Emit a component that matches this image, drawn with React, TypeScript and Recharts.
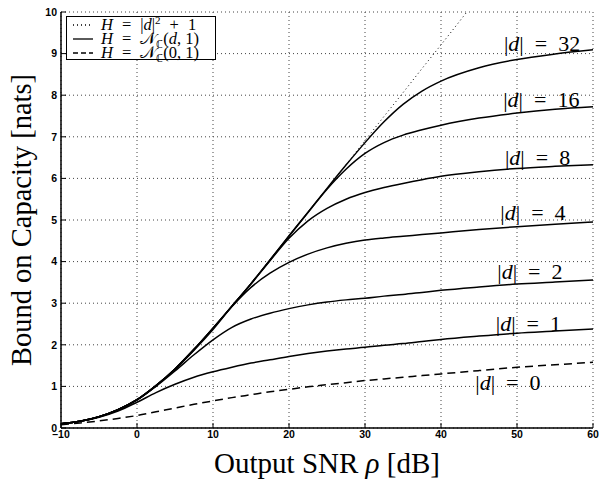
import { LineChart, Line, XAxis, YAxis, CartesianGrid, Legend, ReferenceDot } from 'recharts';

// output SNR in dB, shared by the |d| curves
const snr = [-10, -7.5, -5, -2.5, 0, 2.5, 5, 7.5, 10, 12.5, 15, 17.5, 20, 22.5, 25, 27.5, 30, 32.5, 35, 37.5, 40, 45, 50, 55, 60];

// bound on capacity [nats] for H = N_C(d, 1)
const capD32 = [0.10, 0.16, 0.27, 0.44, 0.68, 1.02, 1.42, 1.89, 2.40, 2.93, 3.47, 4.04, 4.62, 5.19, 5.76, 6.32, 6.86, 7.36, 7.78, 8.10, 8.34, 8.66, 8.86, 8.99, 9.09];
const capD16 = [0.10, 0.16, 0.27, 0.44, 0.68, 1.02, 1.42, 1.89, 2.40, 2.93, 3.47, 4.04, 4.61, 5.18, 5.74, 6.22, 6.60, 6.86, 7.04, 7.17, 7.28, 7.45, 7.57, 7.66, 7.72];
const capD8 = [0.10, 0.16, 0.27, 0.44, 0.68, 1.02, 1.42, 1.89, 2.40, 2.93, 3.46, 4.02, 4.56, 4.98, 5.28, 5.50, 5.66, 5.78, 5.88, 5.97, 6.05, 6.16, 6.24, 6.29, 6.33];
const capD4 = [0.10, 0.16, 0.27, 0.44, 0.68, 1.02, 1.41, 1.87, 2.37, 2.92, 3.38, 3.72, 3.98, 4.18, 4.33, 4.44, 4.52, 4.57, 4.61, 4.65, 4.69, 4.77, 4.84, 4.90, 4.95];
const capD2 = [0.10, 0.16, 0.27, 0.44, 0.67, 1.00, 1.37, 1.76, 2.12, 2.42, 2.62, 2.76, 2.87, 2.96, 3.03, 3.08, 3.12, 3.17, 3.21, 3.26, 3.31, 3.39, 3.46, 3.51, 3.56];
const capD1 = [0.10, 0.16, 0.26, 0.41, 0.62, 0.85, 1.05, 1.22, 1.35, 1.46, 1.56, 1.64, 1.72, 1.79, 1.85, 1.90, 1.94, 1.99, 2.03, 2.08, 2.13, 2.21, 2.28, 2.33, 2.38];
// H = N_C(0, 1)
const capD0 = [0.08, 0.12, 0.17, 0.23, 0.30, 0.39, 0.48, 0.57, 0.65, 0.73, 0.80, 0.87, 0.93, 0.99, 1.04, 1.09, 1.14, 1.18, 1.22, 1.26, 1.30, 1.38, 1.46, 1.52, 1.58];

// H = |d|^2 + 1 (dotted), runs off the top near 43 dB
const boundSnr = [-10, -7.5, -5, -2.5, 0, 2.5, 5, 7.5, 10, 12.5, 15, 17.5, 20, 22.5, 25, 27.5, 30, 32.5, 35, 37.5, 40, 42.5, 43.4];
const boundCap = [0.10, 0.16, 0.27, 0.44, 0.69, 1.02, 1.42, 1.89, 2.40, 2.93, 3.47, 4.04, 4.62, 5.19, 5.76, 6.33, 6.91, 7.49, 8.06, 8.64, 9.21, 9.79, 10.0];

const xTicks = [-10, 0, 10, 20, 30, 40, 50, 60];
const yTicks = [0, 1, 2, 3, 4, 5, 6, 7, 8, 9, 10];

// in-plot curve labels, "|d| = n"
const curveLabels = ['32', '16', '8', '4', '2', '1', '0'];
const labelSnr = [53.3, 53.2, 52.7, 52.1, 51.7, 51.5, 48.8];
const labelCap = [9.07, 7.72, 6.33, 4.99, 3.59, 2.32, 0.91];

const data = snr.map((x, i) => ({
    snr: x,
    d32: capD32[i],
    d16: capD16[i],
    d8: capD8[i],
    d4: capD4[i],
    d2: capD2[i],
    d1: capD1[i],
    d0: capD0[i],
}));
const boundData = boundSnr.map((x, i) => ({ snr: x, bound: boundCap[i] }));

const tickFont = '"Liberation Sans", Arial, sans-serif';
const serif = '"Liberation Serif", "Times New Roman", serif';

function XTick(props: any) {
    const { x, y, payload } = props;
    const v = payload.value < 0 ? `\u2013${Math.abs(payload.value)}` : `${payload.value}`;
    return (
        <g>
            <line x1={x} y1={y} x2={x} y2={y - 5} stroke="#000" strokeWidth={1} />
            <text x={x} y={y + 9.5} textAnchor="middle" fontFamily={tickFont} fontWeight="bold" fontSize={10.5} fill="#000">{v}</text>
        </g>
    );
}

function YTick(props: any) {
    const { x, y, payload } = props;
    return (
        <g>
            <line x1={x} y1={y} x2={x + 5} y2={y} stroke="#000" strokeWidth={1} />
            <text x={x - 4} y={y + 3.8} textAnchor="end" fontFamily={tickFont} fontWeight="bold" fontSize={10.5} fill="#000">{payload.value}</text>
        </g>
    );
}

function LegendBox() {
    const swatch = (dash?: string) => (
        <svg width={26} height={14} style={{ display: 'block' }}>
            <line x1={5} y1={7} x2={25} y2={7} stroke="#000" strokeWidth={1.3} strokeDasharray={dash} />
        </svg>
    );
    const row = { display: 'flex', alignItems: 'center', height: 14 } as const;
    const eq = { margin: '0 9px' };
    const small = { fontSize: 11, lineHeight: 0 };
    return (
        <div style={{ border: '1px solid #000', background: '#fff', width: 150, height: 44, boxSizing: 'border-box', padding: '1px 0 0 1px', fontFamily: serif, fontSize: 16.5, lineHeight: '14px', color: '#000' }}>
            <div style={row}>{swatch('1 3')}<span style={{ marginLeft: 7 }}><i>H</i><span style={eq}>=</span>|<i>d</i>|<sup style={small}>2</sup><span style={eq}>+</span>1</span></div>
            <div style={row}>{swatch()}<span style={{ marginLeft: 7 }}><i>H</i><span style={eq}>=</span>𝒩<sub style={small}>ℂ</sub>(<i>d</i>,&nbsp;1)</span></div>
            <div style={row}>{swatch('5 3')}<span style={{ marginLeft: 7 }}><i>H</i><span style={eq}>=</span>𝒩<sub style={small}>ℂ</sub>(0,&nbsp;1)</span></div>
        </div>
    );
}

export default function App() {
    return (
        <div style={{ position: 'absolute', left: 0, top: 0, background: '#fff' }}>
            <LineChart width={603} height={480} data={data} margin={{ top: 12, right: 10, left: 0, bottom: 0 }}>
                <CartesianGrid stroke="#444" strokeDasharray="1 3" horizontalValues={yTicks} verticalValues={xTicks} />
                <XAxis
                    type="number"
                    dataKey="snr"
                    domain={[-10, 60]}
                    ticks={xTicks}
                    interval={0}
                    height={52}
                    tickSize={0}
                    tickMargin={0}
                    tick={<XTick />}
                    axisLine={{ stroke: '#000', strokeWidth: 1.5 }}
                    label={(p: any) => {
                        const vb = p.viewBox;
                        return (
                            <text x={vb.x + vb.width / 2} y={473} textAnchor="middle" fontFamily={serif} fontSize={29} fill="#000">
                                Output SNR <tspan fontStyle="italic">ρ</tspan> [dB]
                            </text>
                        );
                    }}
                />
                <YAxis
                    type="number"
                    domain={[0, 10]}
                    ticks={yTicks}
                    interval={0}
                    width={61}
                    tickSize={0}
                    tickMargin={0}
                    tick={<YTick />}
                    axisLine={{ stroke: '#000', strokeWidth: 1.5 }}
                    allowDataOverflow
                    label={() => (
                        <text x={31} y={220} transform="rotate(-90 31 220)" textAnchor="middle" fontFamily={serif} fontSize={28.5} fill="#000">
                            Bound on Capacity [nats]
                        </text>
                    )}
                />
                <Legend
                    layout="vertical"
                    align="center"
                    verticalAlign="middle"
                    content={() => <LegendBox />}
                    wrapperStyle={{ top: 16, left: 66, width: 'auto', height: 'auto' }}
                />
                <Line data={boundData} dataKey="bound" type="monotone" stroke="#000" strokeWidth={1} strokeDasharray="1 3" dot={false} isAnimationActive={false} />
                <Line dataKey="d32" type="monotone" stroke="#000" strokeWidth={1.5} dot={false} isAnimationActive={false} />
                <Line dataKey="d16" type="monotone" stroke="#000" strokeWidth={1.5} dot={false} isAnimationActive={false} />
                <Line dataKey="d8" type="monotone" stroke="#000" strokeWidth={1.5} dot={false} isAnimationActive={false} />
                <Line dataKey="d4" type="monotone" stroke="#000" strokeWidth={1.5} dot={false} isAnimationActive={false} />
                <Line dataKey="d2" type="monotone" stroke="#000" strokeWidth={1.5} dot={false} isAnimationActive={false} />
                <Line dataKey="d1" type="monotone" stroke="#000" strokeWidth={1.5} dot={false} isAnimationActive={false} />
                <Line dataKey="d0" type="monotone" stroke="#000" strokeWidth={1.5} strokeDasharray="8 5" dot={false} isAnimationActive={false} />
                {curveLabels.map((t, i) => (
                    <ReferenceDot
                        key={t}
                        x={labelSnr[i]}
                        y={labelCap[i]}
                        r={0}
                        shape={(p: any) => (
                            <text x={p.cx} y={p.cy} textAnchor="middle" fontFamily={serif} fontSize={22} fill="#000">
                                |<tspan fontStyle="italic">d</tspan>|{'\u2002=\u2002'}{t}
                            </text>
                        )}
                    />
                ))}
            </LineChart>
        </div>
    );
}
